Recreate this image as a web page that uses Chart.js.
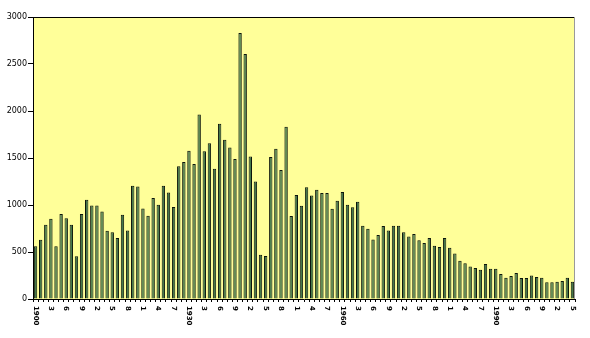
<!DOCTYPE html>
<html>
<head>
<meta charset="utf-8">
<script src="https://cdn.jsdelivr.net/npm/chart.js@4/dist/chart.umd.min.js"></script>
<style>
  html, body { margin: 0; padding: 0; background: #ffffff; }
  #wrap { width: 590px; height: 338px; position: relative; }
</style>
</head>
<body>
<div id="wrap"><canvas id="c" width="590" height="338"></canvas></div>
<script>
// Categories: years 1900 .. 2005
const firstYear = 1900;
const lastYear = 2005;
const years = [];
for (let y = firstYear; y <= lastYear; y++) years.push(String(y));

// Series values, one per year
const counts = [
  560, 630, 790, 855, 560, 905, 860, 790, 455, 905,      // 1900-1909
  1055, 995, 995, 930, 727, 709, 649, 897, 730, 1205,    // 1910-1919
  1198, 964, 886, 1074, 1003, 1205, 1134, 979, 1411, 1458, // 1920-1929
  1578, 1436, 1964, 1571, 1656, 1386, 1865, 1695, 1613, 1490, // 1930-1939
  2830, 2607, 1517, 1251, 471, 457, 1511, 1599, 1372, 1833, // 1940-1949
  883, 1107, 993, 1188, 1102, 1163, 1128, 1128, 961, 1046, // 1950-1959
  1138, 1003, 975, 1035, 780, 748, 634, 681, 777, 730,   // 1960-1969
  780, 780, 709, 666, 691, 624, 596, 649, 567, 553,      // 1970-1979
  649, 546, 485, 408, 379, 347, 330, 312, 372, 322,      // 1980-1989
  322, 266, 227, 245, 277, 223, 223, 251, 234, 227,      // 1990-1999
  177, 177, 184, 191, 227, 184                           // 2000-2005
];

// X tick labels, shown every third year
const tickYears = [
  1900,1903,1906,1909,1912,1915,1918,1921,1924,1927,
  1930,1933,1936,1939,1942,1945,1948,1951,1954,1957,
  1960,1963,1966,1969,1972,1975,1978,1981,1984,1987,
  1990,1993,1996,1999,2002,2005
];
const tickLabels = [
  '1900','3','6','9','2','5','8','1','4','7',
  '1930','3','6','9','2','5','8','1','4','7',
  '1960','3','6','9','2','5','8','1','4','7',
  '1990','3','6','9','2','5'
];

// Y axis ticks
const yMin = 0, yMax = 3000, yStep = 500;

const plotBg = {
  id: 'plotBg',
  beforeDraw(chart) {
    const a = chart.chartArea, ctx = chart.ctx;
    ctx.save();
    ctx.fillStyle = '#ffff99';
    ctx.fillRect(a.left, a.top, a.right - a.left, a.bottom - a.top);
    ctx.restore();
  },
  afterDraw(chart) {
    const a = chart.chartArea, ctx = chart.ctx;
    const xs = chart.scales.x;
    ctx.save();
    ctx.strokeStyle = '#000000';
    ctx.lineWidth = 1;
    ctx.beginPath();
    ctx.moveTo(a.left + 0.5, a.top + 0.5);
    ctx.lineTo(a.right - 0.5, a.top + 0.5);
    ctx.stroke();
    ctx.strokeStyle = '#9a9a9a';
    ctx.beginPath();
    ctx.moveTo(a.right - 0.5, a.top);
    ctx.lineTo(a.right - 0.5, a.bottom);
    ctx.stroke();
    ctx.fillStyle = '#000000';
    ctx.font = 'bold 7px "DejaVu Sans"';
    ctx.textAlign = 'left';
    ctx.textBaseline = 'middle';
    tickYears.forEach((yr, k) => {
      const idx = years.indexOf(String(yr));
      if (idx < 0) return;
      const x = xs.getPixelForValue(idx);
      ctx.save();
      ctx.translate(x, a.bottom + 7);
      ctx.rotate(Math.PI / 2);
      ctx.fillText(tickLabels[k], 0, 0);
      ctx.restore();
    });
    ctx.restore();
  }
};

new Chart(document.getElementById('c'), {
  type: 'bar',
  data: {
    labels: years,
    datasets: [{
      data: counts,
      backgroundColor: '#44784c',
      borderColor: '#0c140c',
      borderWidth: 1,
      borderSkipped: 'bottom',
      barPercentage: 0.66,
      categoryPercentage: 1.0
    }]
  },
  options: {
    responsive: false,
    animation: false,
    devicePixelRatio: 1,
    layout: { padding: { left: 0, top: 17, right: 15, bottom: 0 } },
    plugins: { legend: { display: false }, tooltip: { enabled: false } },
    scales: {
      x: {
        offset: true,
        grid: { display: true, drawOnChartArea: false, drawTicks: true, tickLength: 3, color: '#000000', offset: true },
        border: { display: true, color: '#000000', width: 1 },
        ticks: { display: false },
        afterFit(s) { s.height = 39; }
      },
      y: {
        min: yMin, max: yMax,
        grid: { display: true, drawOnChartArea: false, drawTicks: true, tickLength: 5, color: '#000000' },
        border: { display: true, color: '#000000', width: 1 },
        ticks: {
          stepSize: yStep, padding: 1, color: '#000000',
          font: { family: '"DejaVu Sans"', size: 8 },
          callback: (v) => String(v)
        },
        afterFit(s) { s.width = 33; }
      }
    }
  },
  plugins: [plotBg]
});
</script>
</body>
</html>
